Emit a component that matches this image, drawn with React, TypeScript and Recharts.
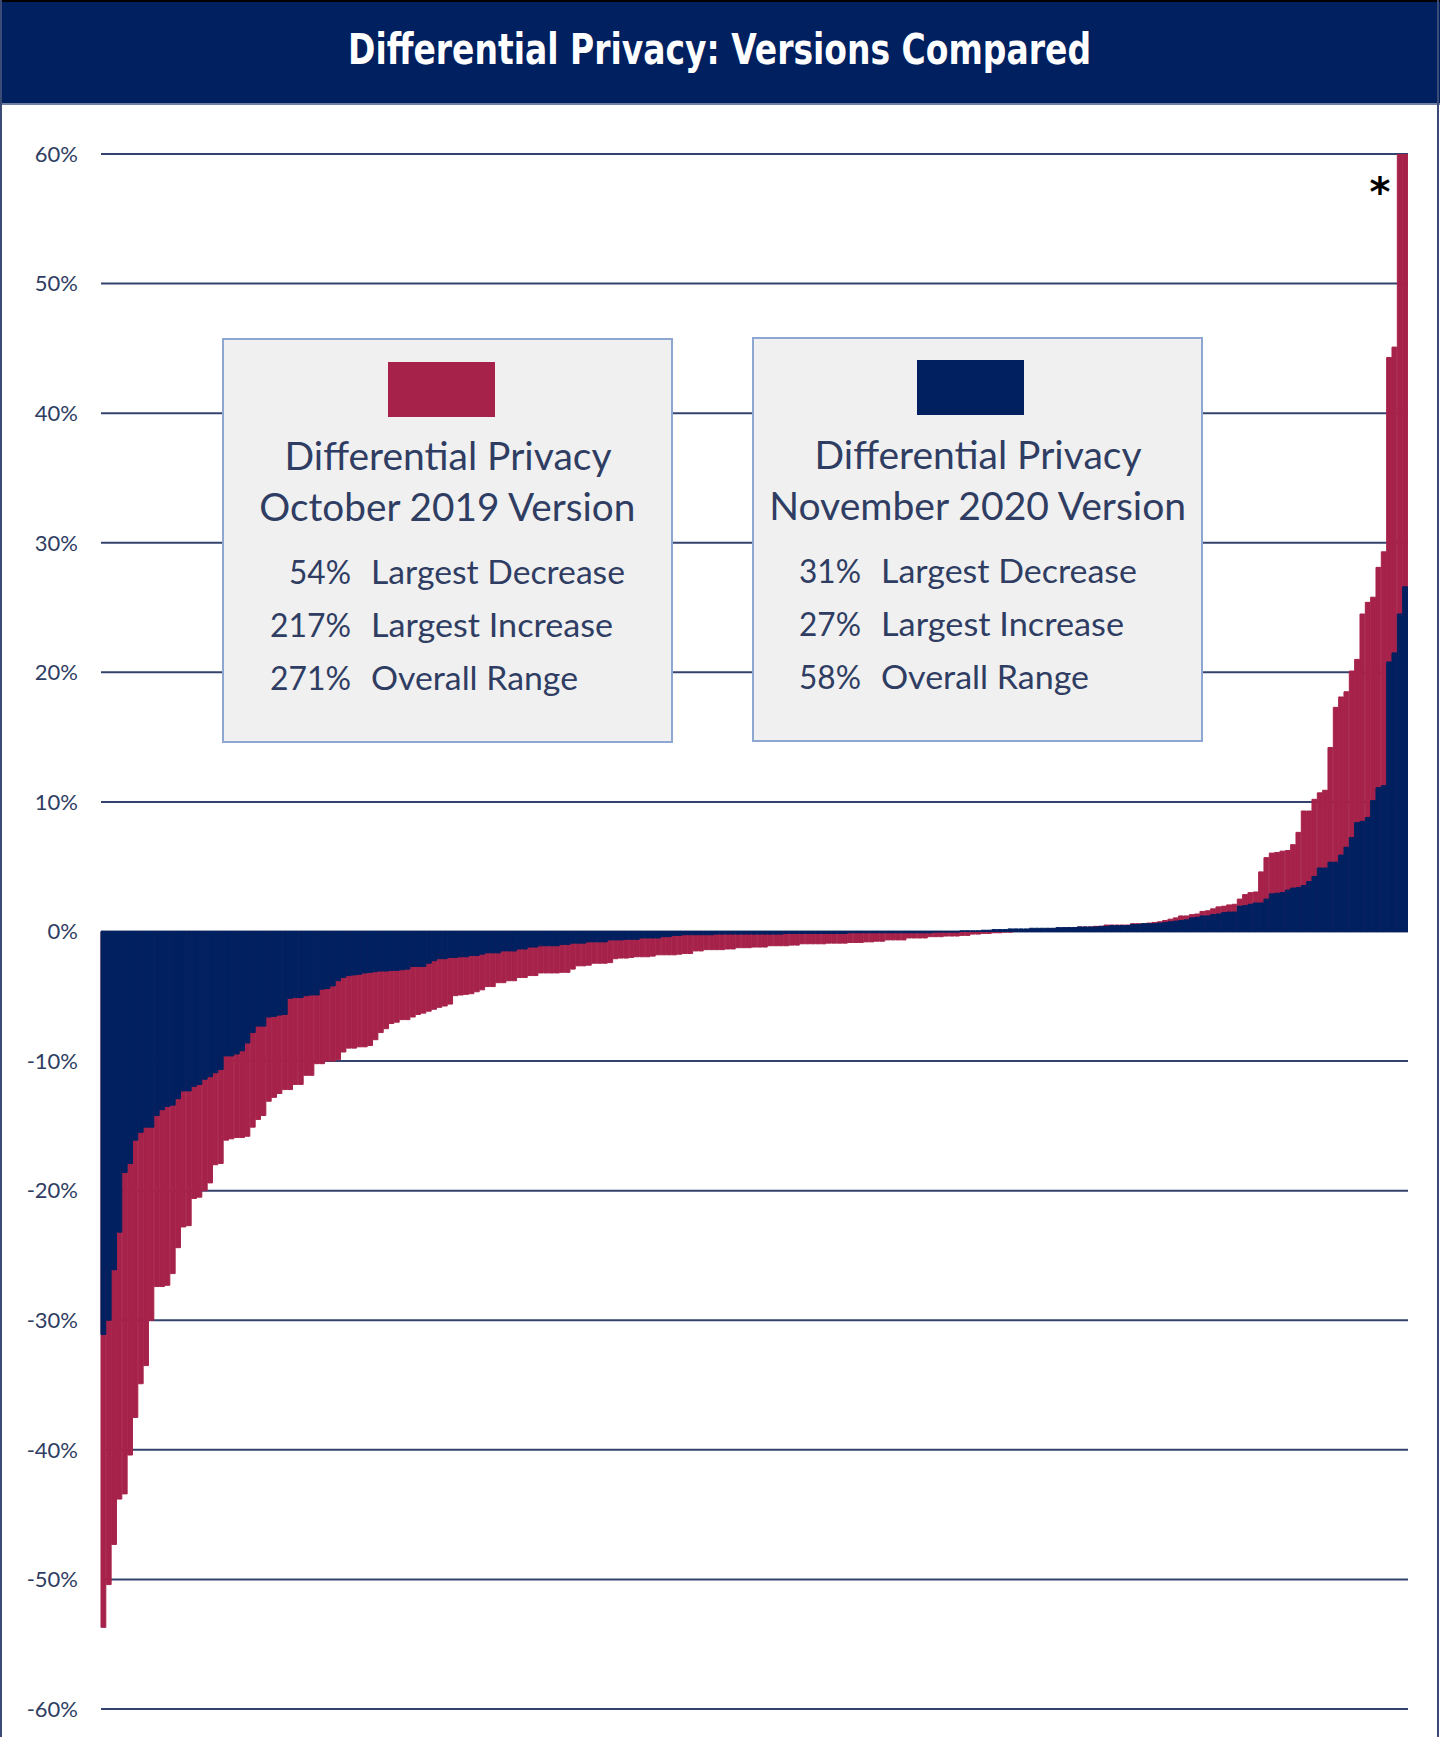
import React from 'react';
import { BarChart, Bar, XAxis, YAxis, CartesianGrid } from 'recharts';

// ---- Data (percent change, sorted ascending per series) ----
const oct2019: number[] = [
  -53.7, -50.4, -47.3, -43.8, -43.4, -40.4, -37.5, -34.9, -33.5, -30.0,
  -27.4, -27.4, -27.3, -26.4, -24.4, -22.8, -22.7, -20.6, -20.5, -20.0,
  -19.4, -18.0, -17.9, -16.1, -16.0, -15.9, -15.9, -15.8, -15.1, -14.5,
  -14.2, -13.1, -12.8, -12.5, -12.2, -12.2, -11.8, -11.8, -11.1, -11.1,
  -10.2, -10.2, -10.0, -10.0, -9.9, -9.3, -9.0, -9.0, -8.9, -8.9,
  -8.8, -8.35, -7.8, -7.5, -7.1, -7.0, -6.8, -6.8, -6.6, -6.4,
  -6.3, -6.15, -6.0, -5.85, -5.75, -5.6, -4.95, -4.9, -4.85, -4.8,
  -4.65, -4.5, -4.25, -4.25, -3.95, -3.95, -3.8, -3.8, -3.55, -3.55,
  -3.4, -3.4, -3.2, -3.2, -3.2, -3.2, -3.15, -3.15, -2.9, -2.65,
  -2.65, -2.6, -2.45, -2.45, -2.45, -2.4, -2.1, -2.05, -2.05, -2.0,
  -1.95, -1.95, -1.95, -1.9, -1.8, -1.8, -1.8, -1.8, -1.75, -1.7,
  -1.7, -1.5, -1.5, -1.4, -1.4, -1.4, -1.4, -1.35, -1.35, -1.25,
  -1.25, -1.25, -1.2, -1.2, -1.2, -1.1, -1.1, -1.1, -1.1, -1.05,
  -1.05, -0.95, -0.95, -0.95, -0.95, -0.95, -0.9, -0.9, -0.9, -0.9,
  -0.85, -0.85, -0.85, -0.8, -0.8, -0.75, -0.75, -0.65, -0.65, -0.65,
  -0.65, -0.5, -0.5, -0.5, -0.5, -0.4, -0.4, -0.4, -0.35, -0.35,
  -0.35, -0.3, -0.3, -0.2, -0.2, -0.15, -0.15, -0.1, -0.1, -0.05,
  -0.05, 0.05, 0.05, 0.1, 0.1, 0.15, 0.15, 0.2, 0.2, 0.25,
  0.25, 0.3, 0.3, 0.35, 0.35, 0.35, 0.4, 0.4, 0.5, 0.5,
  0.5, 0.5, 0.5, 0.6, 0.6, 0.6, 0.65, 0.7, 0.75, 0.85,
  0.95, 1.05, 1.2, 1.2, 1.3, 1.35, 1.55, 1.6, 1.75, 1.9,
  1.95, 2.05, 2.1, 2.5, 2.85, 3.0, 3.05, 4.6, 5.7, 6.05,
  6.1, 6.2, 6.25, 6.7, 7.65, 9.3, 9.3, 10.2, 10.7, 10.9,
  14.2, 17.3, 18.1, 18.5, 20.1, 21.0, 24.5, 25.4, 25.8, 28.1,
  29.3, 44.3, 45.1, 62.0, 217.0,
];

const nov2020: number[] = [
  -31.1, -30.0, -26.1, -23.2, -18.6, -17.9, -16.1, -15.5, -15.1, -15.1,
  -14.2, -13.75, -13.5, -13.4, -12.9, -12.3, -12.3, -11.95, -11.8, -11.4,
  -11.2, -10.9, -10.65, -9.6, -9.6, -9.45, -9.2, -8.6, -7.8, -7.3,
  -7.3, -6.6, -6.55, -6.45, -6.4, -5.15, -5.1, -5.1, -4.95, -4.9,
  -4.9, -4.45, -4.4, -4.2, -3.8, -3.55, -3.4, -3.35, -3.3, -3.2,
  -3.15, -3.1, -3.05, -3.05, -3.0, -3.0, -2.95, -2.9, -2.7, -2.7,
  -2.7, -2.45, -2.25, -2.1, -2.1, -2.0, -2.0, -1.95, -1.95, -1.85,
  -1.85, -1.75, -1.65, -1.65, -1.65, -1.5, -1.5, -1.5, -1.35, -1.35,
  -1.2, -1.2, -1.1, -1.1, -1.1, -1.1, -1.0, -1.0, -0.9, -0.9,
  -0.9, -0.8, -0.8, -0.8, -0.8, -0.65, -0.65, -0.65, -0.6, -0.6,
  -0.6, -0.5, -0.5, -0.5, -0.5, -0.4, -0.4, -0.3, -0.3, -0.25,
  -0.25, -0.25, -0.25, -0.25, -0.25, -0.2, -0.2, -0.2, -0.2, -0.2,
  -0.2, -0.2, -0.2, -0.2, -0.2, -0.2, -0.2, -0.2, -0.15, -0.15,
  -0.15, -0.15, -0.15, -0.15, -0.15, -0.15, -0.15, -0.15, -0.15, -0.15,
  -0.1, -0.1, -0.1, -0.1, -0.1, -0.1, -0.1, -0.1, -0.1, -0.1,
  -0.1, -0.1, -0.1, -0.1, -0.1, -0.1, -0.05, -0.05, -0.05, -0.05,
  -0.05, 0.05, 0.05, 0.05, 0.05, 0.1, 0.1, 0.15, 0.15, 0.15,
  0.2, 0.2, 0.2, 0.2, 0.25, 0.25, 0.25, 0.25, 0.25, 0.3,
  0.3, 0.3, 0.3, 0.35, 0.35, 0.35, 0.35, 0.4, 0.4, 0.45,
  0.45, 0.45, 0.45, 0.55, 0.55, 0.6, 0.6, 0.6, 0.65, 0.7,
  0.75, 0.8, 0.85, 0.9, 1.05, 1.1, 1.2, 1.2, 1.3, 1.35,
  1.45, 1.5, 1.5, 1.95, 2.0, 2.1, 2.2, 2.2, 2.5, 2.9,
  2.95, 3.0, 3.2, 3.35, 3.4, 3.55, 3.85, 4.25, 4.9, 4.9,
  5.35, 5.35, 5.9, 6.5, 7.25, 8.4, 8.5, 8.8, 10.1, 11.1,
  11.25, 20.8, 21.5, 24.5, 26.6,
];

const categories: string[] = oct2019.map((_, i) => String(i + 1));
const yTicks: number[] = [-60, -50, -40, -30, -20, -10, 0, 10, 20, 30, 40, 50, 60];

const title = 'Differential Privacy: Versions Compared';
const box1Lines = ['Differential Privacy', 'October 2019 Version'];
const box1Stats = [
  ['54%', 'Largest Decrease'],
  ['217%', 'Largest Increase'],
  ['271%', 'Overall Range'],
];
const box2Lines = ['Differential Privacy', 'November 2020 Version'];
const box2Stats = [
  ['31%', 'Largest Decrease'],
  ['27%', 'Largest Increase'],
  ['58%', 'Overall Range'],
];

// measured text widths in the reference (px)
const box1NumW = [62, 81, 81];
const box1LabW = [254, 242, 207];
const box2NumW = [62, 62, 62];
const box2LabW = [256, 243, 208];

const rows = categories.map((name, i) => ({ name, oct: oct2019[i], nov: nov2020[i] }));

const RED = '#a6224a';
const NAVY = '#002060';
const TEXT = '#2f3d63';
const GRID = '#33436e';
const FONT = 'Lato, "Open Sans", sans-serif';

export default function App() {
  return (
    <div style={{ position: 'absolute', left: 0, top: 0, width: 1442, height: 1737, background: '#fff', overflow: 'hidden' }}>
      <div style={{ position: 'absolute', left: 0, top: 0 }}>
        <BarChart
          width={1442}
          height={1737}
          data={rows}
          margin={{ top: 154, right: 34, bottom: 28, left: 0 }}
          barCategoryGap={0}
          barGap={0}
        >
          <CartesianGrid vertical={false} stroke={GRID} strokeWidth={2} />
          <XAxis xAxisId={0} dataKey="name" type="category" hide />
          <XAxis xAxisId={1} dataKey="name" type="category" hide />
          <YAxis
            domain={[-60, 60]}
            ticks={yTicks}
            allowDataOverflow
            width={101}
            axisLine={false}
            tickLine={false}
            tickSize={0}
            tickMargin={23}
            tickFormatter={(v: number) => `${v}%`}
            tick={{ fontFamily: FONT, fontSize: 22, fill: TEXT }}
          />
          <Bar xAxisId={0} dataKey="oct" fill={RED} stroke={RED} strokeWidth={1} barSize={5.6} isAnimationActive={false} />
          <Bar xAxisId={1} dataKey="nov" fill={NAVY} stroke={NAVY} strokeWidth={1} barSize={5.6} isAnimationActive={false} />
        </BarChart>
      </div>
      <svg width={1442} height={1737} style={{ position: 'absolute', left: 0, top: 0, pointerEvents: 'none' }}>
        {/* frame */}
        <rect x={0} y={0} width={1440} height={105} fill={NAVY} />
        <rect x={0} y={0} width={1440} height={2} fill="#000" />
        <rect x={0} y={103} width={1440} height={2} fill="#7080a6" />
        <rect x={0} y={0} width={2} height={1737} fill="#3b4b75" />
        <rect x={1437} y={0} width={2} height={1737} fill="#3b4b75" />
        <text
          x={719.5}
          y={64}
          textAnchor="middle"
          fill="#fff"
          fontFamily='"Liberation Sans Narrow", "DejaVu Sans Condensed", "Liberation Sans", sans-serif'
          fontWeight="bold"
          fontSize={43}
          textLength={743}
          lengthAdjust="spacingAndGlyphs"
        >
          {title}
        </text>

        {/* legend box 1 */}
        <rect x={223} y={339} width={449} height={403} fill="#f0f0f0" stroke="#8ea6d2" strokeWidth={2} />
        <rect x={388} y={362} width={107} height={55} fill={RED} />
        <text x={448} y={470} textAnchor="middle" fill={TEXT} fontFamily={FONT} fontSize={38} textLength={327} lengthAdjust="spacingAndGlyphs">{box1Lines[0]}</text>
        <text x={447.3} y={521} textAnchor="middle" fill={TEXT} fontFamily={FONT} fontSize={38} textLength={376} lengthAdjust="spacingAndGlyphs">{box1Lines[1]}</text>
        {box1Stats.map((s, i) => (
          <g key={'b1' + i}>
            <text x={351 - box1NumW[i]} y={584 + i * 53} textAnchor="start" fill={TEXT} fontFamily={FONT} fontSize={32} textLength={box1NumW[i]} lengthAdjust="spacingAndGlyphs">{s[0]}</text>
            <text x={371} y={584 + i * 53} textAnchor="start" fill={TEXT} fontFamily={FONT} fontSize={32} textLength={box1LabW[i]} lengthAdjust="spacingAndGlyphs">{s[1]}</text>
          </g>
        ))}

        {/* legend box 2 */}
        <rect x={753} y={338} width={449} height={403} fill="#f0f0f0" stroke="#8ea6d2" strokeWidth={2} />
        <rect x={917} y={360} width={107} height={55} fill={NAVY} />
        <text x={978} y={469} textAnchor="middle" fill={TEXT} fontFamily={FONT} fontSize={38} textLength={327} lengthAdjust="spacingAndGlyphs">{box2Lines[0]}</text>
        <text x={977.7} y={520} textAnchor="middle" fill={TEXT} fontFamily={FONT} fontSize={38} textLength={417} lengthAdjust="spacingAndGlyphs">{box2Lines[1]}</text>
        {box2Stats.map((s, i) => (
          <g key={'b2' + i}>
            <text x={861 - box2NumW[i]} y={583 + i * 53} textAnchor="start" fill={TEXT} fontFamily={FONT} fontSize={32} textLength={box2NumW[i]} lengthAdjust="spacingAndGlyphs">{s[0]}</text>
            <text x={881} y={583 + i * 53} textAnchor="start" fill={TEXT} fontFamily={FONT} fontSize={32} textLength={box2LabW[i]} lengthAdjust="spacingAndGlyphs">{s[1]}</text>
          </g>
        ))}

        {/* asterisk marking the clipped bar */}
        <text x={1380} y={206} textAnchor="middle" fill="#000" fontFamily='"DejaVu Sans", sans-serif' fontWeight="bold" fontSize={40}>*</text>
      </svg>
    </div>
  );
}
